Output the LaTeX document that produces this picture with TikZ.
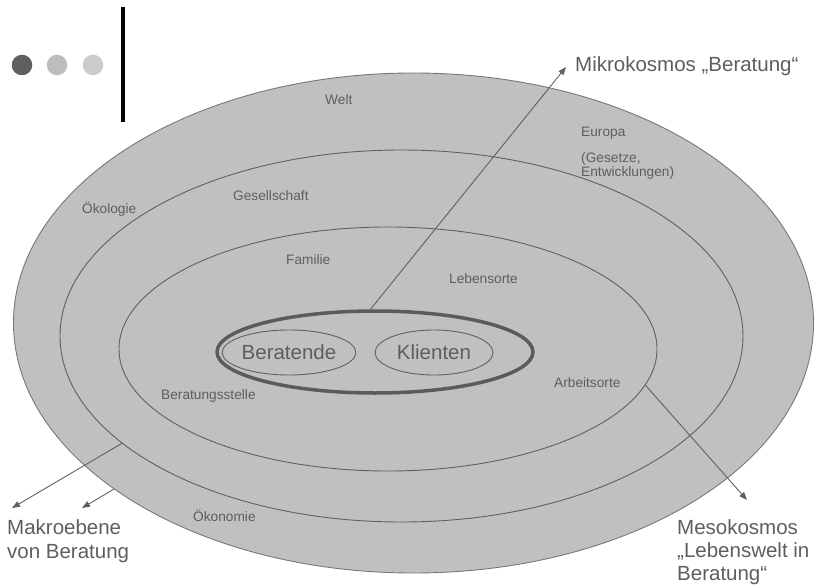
\documentclass[tikz,border=0pt]{standalone}
\usepackage{fontspec}
\setmainfont{Liberation Sans}
\usetikzlibrary{shapes.geometric,arrows.meta}
\definecolor{fillgray}{HTML}{C0C0C0}
\definecolor{linegray}{HTML}{606060}
\definecolor{textgray}{HTML}{5E5E5E}
\definecolor{dotA}{HTML}{5F5F5F}
\definecolor{dotB}{HTML}{BDBDBD}
\definecolor{dotC}{HTML}{CBCBCB}
\begin{document}
\begin{tikzpicture}[x=1pt,y=-1pt,
  ring/.style={ellipse, draw=linegray, line width=0.9pt, inner sep=0pt},
  smalllabel/.style={font=\fontsize{13.7}{13.2}\selectfont, text=textgray, inner sep=0pt, anchor=base west, align=left},
  biglabel/.style={font=\fontsize{20.5}{23.5}\selectfont, text=textgray, inner sep=0pt, anchor=base west, align=left},
  arr/.style={draw=linegray, line width=0.9pt, -{Triangle[length=8pt,width=6pt]}},
  dot/.style={circle, inner sep=0pt, minimum size=20.6pt}]
\useasboundingbox (0,0) rectangle (817,586);
% header decoration
\node[dot, fill=dotA] (d1) at (22,65) {};
\node[dot, fill=dotB] (d2) at (57,65) {};
\node[dot, fill=dotC] (d3) at (93,65) {};
\coordinate (bartop) at (123,7);
\coordinate (barbot) at (123,122);
\draw[line width=3.3pt, black] (bartop) -- (barbot);
% ellipses
\node[ring, fill=fillgray, draw=linegray!85, minimum width=800pt, minimum height=500pt] (welt) at (413.5,323) {};
\node[ring, minimum width=683pt, minimum height=372pt] (gesell) at (401.5,336) {};
\node[ring, minimum width=538pt, minimum height=244pt] (familie) at (388,349) {};
\node[ring, line width=3.5pt, draw=linegray!95!black, minimum width=316pt, minimum height=82pt] (core) at (375,352) {};
\node[ring, minimum width=118pt, minimum height=45pt, font=\fontsize{20.5}{23}\selectfont, text=textgray] (beratende) at (289,352.5) {Beratende};
\node[ring, minimum width=118pt, minimum height=45pt, font=\fontsize{20.5}{23}\selectfont, text=textgray] (klienten) at (434,352.5) {Klienten};
% arrow tips
\coordinate (mikrotip) at (566,67);
\coordinate (mesotip) at (747,500);
\coordinate (makrotipA) at (12,508);
\coordinate (makrotipB) at (82,508);
\draw[arr] (core.96.6) -- (mikrotip);
\draw[arr] (familie.-8.7) -- (mesotip);
\draw[arr] (gesell.201.4) -- (makrotipA);
\draw[arr] (welt.209) -- (makrotipB);
% small labels (base anchor = last line)
\node[smalllabel] (lwelt) at (325,104) {Welt};
\node[smalllabel] (leuropa) at (581,176) {Europa\\[12.8pt](Gesetze,\\Entwicklungen)};
\node[smalllabel] (loeko) at (82,213) {Ökologie};
\node[smalllabel] (lgesell) at (233,200) {Gesellschaft};
\node[smalllabel] (lfam) at (286,264) {Familie};
\node[smalllabel] (lleben) at (449,283) {Lebensorte};
\node[smalllabel] (larbeit) at (554,387) {Arbeitsorte};
\node[smalllabel] (lstelle) at (161,399) {Beratungsstelle};
\node[smalllabel] (loekon) at (193,521) {Ökonomie};
% big labels
\node[biglabel] (mikro) at (575,72) {Mikrokosmos „Beratung“};
\node[biglabel, font=\fontsize{20.5}{24}\selectfont] (makro) at (7,558) {Makroebene\\von Beratung};
\node[biglabel, font=\fontsize{20.5}{23}\selectfont] (meso) at (677,580) {Mesokosmos\\„Lebenswelt in\\Beratung“};
\end{tikzpicture}
\end{document}
